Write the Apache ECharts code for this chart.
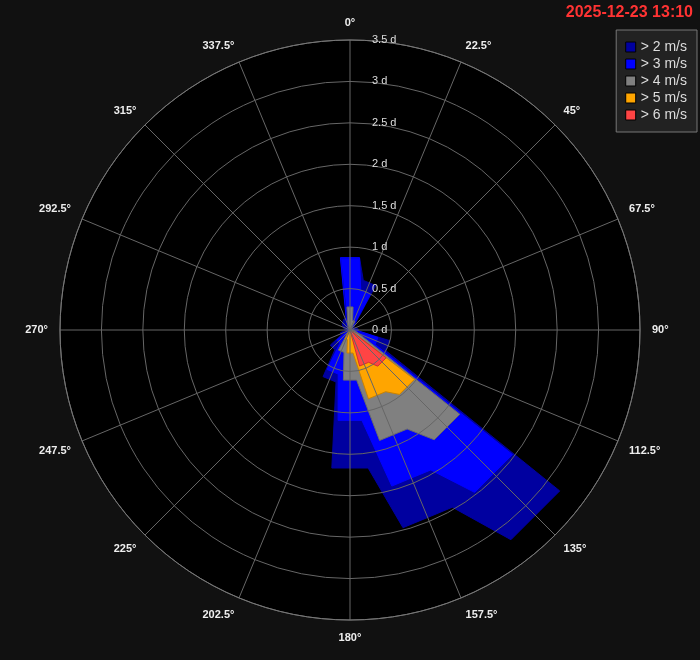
<!DOCTYPE html>
<html><head><meta charset="utf-8">
<script src="https://cdn.jsdelivr.net/npm/echarts@6/dist/echarts.min.js"></script>
<style>html,body{margin:0;padding:0;background:#111;}#c{width:700px;height:660px;}</style>
</head><body><div id="c"></div>
<script>
// wind directions (deg, clockwise from north)
const directions = [0, 22.5, 45, 67.5, 90, 112.5, 135, 157.5, 180, 202.5, 225, 247.5, 270, 292.5, 315, 337.5];
const seriesNames = ['> 2 m/s', '> 3 m/s', '> 4 m/s', '> 5 m/s', '> 6 m/s'];
// durations in days, per direction
const over2 = [0.88, 0.62, 0.12, 0.05, 0.10, 0.50, 3.19, 2.47, 1.68, 0.65, 0.30, 0.12, 0.05, 0.08, 0.12, 0.15];
const over3 = [0.88, 0.50, 0.08, 0.02, 0.05, 0.35, 2.47, 1.95, 1.10, 0.55, 0.20, 0.05, 0.02, 0.03, 0.05, 0.08];
const over4 = [0.28, 0.12, 0.02, 0.00, 0.00, 0.08, 1.67, 1.38, 0.61, 0.28, 0.05, 0.00, 0.00, 0.00, 0.00, 0.05];
const over5 = [0.03, 0.00, 0.00, 0.00, 0.00, 0.02, 0.98, 0.86, 0.28, 0.12, 0.00, 0.00, 0.00, 0.00, 0.00, 0.00];
const over6 = [0.00, 0.00, 0.00, 0.00, 0.00, 0.00, 0.55, 0.45, 0.00, 0.00, 0.00, 0.00, 0.00, 0.00, 0.00, 0.00];
const radiusTicks = [0, 0.5, 1, 1.5, 2, 2.5, 3, 3.5];
const titleText = '2025-12-23 13:10';

const seriesValues = [over2, over3, over4, over5, over6];
const fills = ['#0000a0', '#0000ff', '#808080', '#ffa500', '#ff4444'];
const edges = ['#0000a0', '#0000ff', '#6a6a6a', '#c98300', '#d03030'];
const HALF = 7.5;

function shape(vals) {
  const pts = [];
  directions.forEach((d, i) => {
    let a0 = d - HALF; if (a0 < 0) a0 += 360;
    pts.push([vals[i], a0], [vals[i], d + HALF]);
  });
  pts.push(pts[0]);
  return pts;
}

const chart = echarts.init(document.getElementById('c'), null, {renderer: 'canvas'});
const font = 'Arial, "Liberation Sans", sans-serif';
const option = {
  backgroundColor: '#111111',
  animation: false,
  title: {
    text: titleText, right: 2, top: 0,
    textStyle: {color: '#ff3333', fontSize: 16, fontWeight: 'bold', fontFamily: font}
  },
  legend: {
    orient: 'vertical', right: 3, top: 30,
    data: seriesNames,
    icon: 'rect', itemWidth: 10, itemHeight: 10, itemGap: 3,
    padding: [10, 10, 10, 9],
    backgroundColor: '#222222', borderColor: '#777', borderWidth: 1,
    itemStyle: {borderColor: '#000', borderWidth: 1},
    textStyle: {color: '#dddddd', fontSize: 14, fontFamily: font}
  },
  polar: [
    {center: ['50%', '50%'], radius: 290, z: 0},
    {center: ['50%', '50%'], radius: 290, z: 10}
  ],
  angleAxis: [
    {polarIndex: 0, type: 'value', min: 0, max: 360, interval: 22.5, startAngle: 90, clockwise: true,
     axisLine: {show: false}, axisTick: {show: false}, axisLabel: {show: false}, splitLine: {show: false},
     splitArea: {show: true, areaStyle: {color: ['#000000']}}, z: 0},
    {polarIndex: 1, type: 'value', min: 0, max: 360, interval: 22.5, startAngle: 90, clockwise: true,
     axisLine: {show: true, lineStyle: {color: '#777', width: 1}},
     axisTick: {show: false},
     axisLabel: {show: true, margin: 12, color: '#eeeeee', fontSize: 11, fontWeight: 'bold', fontFamily: font,
       formatter: v => (v >= 360 ? '' : v + '°')},
     splitLine: {show: true, lineStyle: {color: '#666', width: 1}},
     splitArea: {show: false}, z: 10}
  ],
  radiusAxis: [
    {polarIndex: 0, type: 'value', min: 0, max: 3.5, interval: 0.5,
     axisLine: {show: false}, axisTick: {show: false}, axisLabel: {show: false}, splitLine: {show: false}, z: 0},
    {polarIndex: 1, type: 'value', min: 0, max: 3.5, interval: 0.5,
     axisLine: {show: false}, axisTick: {show: false},
     axisLabel: {show: true, color: '#dddddd', fontSize: 11, fontFamily: font, margin: -22, align: 'left',
       formatter: v => v + ' d'},
     splitLine: {show: true, lineStyle: {color: '#666', width: 1}}, z: 10}
  ],
  series: seriesNames.map((name, k) => ({
    name: name, type: 'line', coordinateSystem: 'polar', polarIndex: 1,
    data: shape(seriesValues[k]),
    showSymbol: false, symbol: 'none', smooth: false, z: 2,
    color: fills[k],
    itemStyle: {color: fills[k]},
    lineStyle: {color: edges[k], width: 1},
    areaStyle: {color: fills[k], opacity: 1}
  }))
};
chart.setOption(option);
</script>
</body></html>
